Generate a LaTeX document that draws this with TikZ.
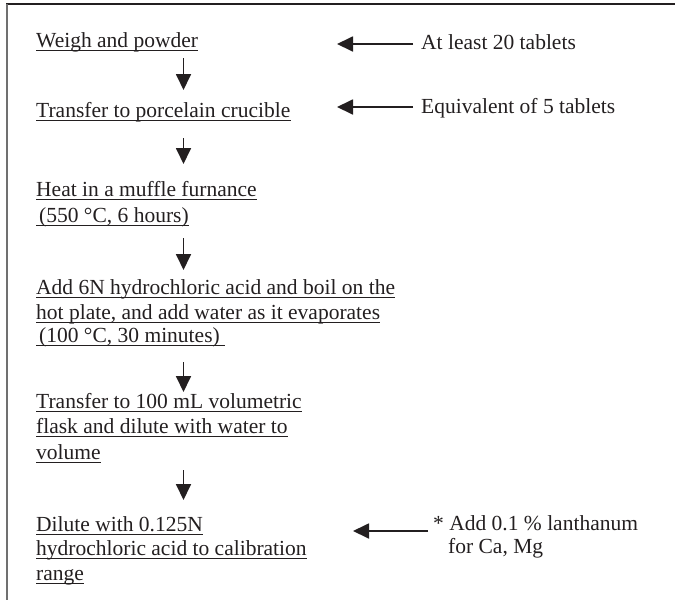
\documentclass[tikz,border=0pt]{standalone}
\usepackage{fontspec}
\setmainfont{Liberation Serif}
\usetikzlibrary{arrows.meta}
\definecolor{ink}{HTML}{231F20}
\definecolor{frameg}{HTML}{707070}
\begin{document}
\begin{tikzpicture}[x=1pt,y=-1pt,
  txt/.style={anchor=base west, inner sep=0pt, text=ink, font=\fontsize{21.5}{25}\selectfont},
  ul/.style={line width=0.9pt, draw=ink},
  arr/.style={line width=1.8pt, draw=ink, -{Triangle[length=16pt,width=15pt]}},
  topframe/.style={line width=1.4pt, draw=ink},
  leftframe/.style={line width=2pt, draw=frameg}
]
\useasboundingbox (0,0) rectangle (675,600);
% frame
\coordinate (fTL) at (7,4);
\coordinate (fTR) at (675,4);
\coordinate (fBL) at (7,600);
\draw[topframe] (6,4) -- (fTR);
\draw[leftframe] (fTL) -- (fBL);

% left steps
\node[txt] (s1) at (36,47) {Weigh and powder};
\node[txt] (s2) at (36,117) {Transfer to porcelain crucible};
\node[txt] (s3a) at (36,196) {Heat in a muffle furnance};
\node[txt] (s3b) at (36,222.5) {\hspace*{3pt}(550 °C, 6 hours)};
\node[txt] (s4a) at (36,294) {Add 6N hydrochloric acid and boil on the};
\node[txt] (s4b) at (36,319) {hot plate, and add water as it evaporates};
\node[txt] (s4c) at (36,342.5) {\hspace*{3pt}(100 °C, 30 minutes)\hspace*{5pt}};
\node[txt] (s5a) at (36,408) {Transfer to 100 mL volumetric};
\node[txt] (s5b) at (36,433.5) {flask and dilute with water to};
\node[txt] (s5c) at (36,459.5) {volume};
\node[txt] (s6a) at (36,531) {Dilute with 0.125N};
\node[txt] (s6b) at (36,555.5) {hydrochloric acid to calibration};
\node[txt] (s6c) at (36,580) {range};
\foreach \n in {s1,s2,s3a,s3b,s4a,s4b,s4c,s5a,s5b,s5c,s6a,s6b,s6c}
  \draw[ul] ([yshift=-3pt]\n.base west) -- ([yshift=-3pt]\n.base east);

% right notes
\node[txt] (n1) at (421,49) {At least 20 tablets};
\node[txt] (n2) at (421,113) {Equivalent of 5 tablets};
\node[txt] (n3a) at (433,530) {* Add 0.1 \% lanthanum};
\node[txt] (n3b) at (448,553) {for Ca, Mg};

% vertical arrows
\coordinate (v1s) at (183.5,58);  \coordinate (v1e) at (183.5,90);
\coordinate (v2s) at (183.5,138); \coordinate (v2e) at (183.5,164);
\coordinate (v3s) at (183.5,238); \coordinate (v3e) at (183.5,270);
\coordinate (v4s) at (183.5,362); \coordinate (v4e) at (183.5,392);
\coordinate (v5s) at (183.5,470); \coordinate (v5e) at (183.5,500);
\foreach \i in {1,...,5} \draw[arr] (v\i s) -- (v\i e);

% horizontal arrows
\coordinate (h1s) at (413,44);  \coordinate (h1e) at (337,44);
\coordinate (h2s) at (413,107); \coordinate (h2e) at (337,107);
\coordinate (h3s) at (428,531); \coordinate (h3e) at (353,531);
\foreach \i in {1,2,3} \draw[arr] (h\i s) -- (h\i e);
\end{tikzpicture}
\end{document}
